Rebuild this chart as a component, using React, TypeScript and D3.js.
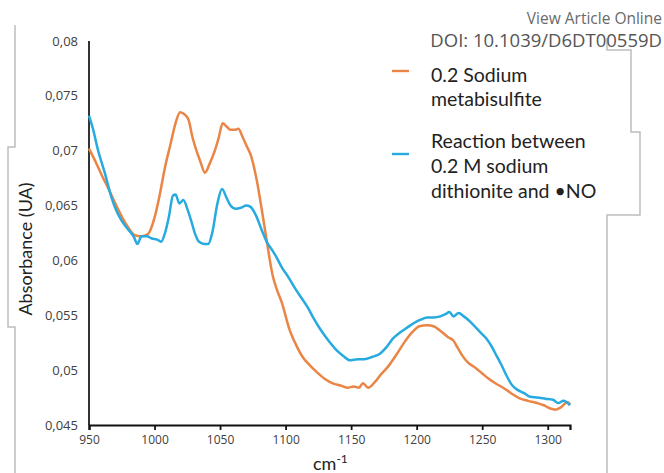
import React, { useEffect, useRef } from 'react';
import * as d3 from 'd3';

// 0.2 sodium metabisulfite
const metaWn = [950, 955, 960, 965, 970, 975, 980, 985, 990, 995, 1000, 1004, 1008, 1012, 1016, 1019.5, 1023, 1026, 1029, 1032, 1035, 1038.5, 1042, 1046, 1049, 1052, 1055, 1058, 1061, 1064, 1067, 1070, 1074, 1078, 1082, 1086, 1090, 1093.5, 1097, 1103, 1108, 1113, 1118, 1124, 1130, 1136, 1142, 1147, 1152, 1156, 1159, 1163, 1168, 1172, 1178, 1185, 1191, 1197, 1202, 1208, 1213, 1218, 1224, 1228, 1231, 1235, 1239, 1245, 1250, 1254, 1260, 1266, 1272, 1279, 1285, 1292, 1297, 1302, 1306, 1310, 1315, 1317];
const metaAbs = [0.0702, 0.0690, 0.0677, 0.0665, 0.0652, 0.0640, 0.0630, 0.0623, 0.0622, 0.0624, 0.0639, 0.0660, 0.0685, 0.0705, 0.0725, 0.0735, 0.0733, 0.0728, 0.0712, 0.0700, 0.0690, 0.0680, 0.0688, 0.0700, 0.0712, 0.0725, 0.0722, 0.0719, 0.0719, 0.0720, 0.0713, 0.0705, 0.0694, 0.0673, 0.0645, 0.0615, 0.0587, 0.0573, 0.0562, 0.0537, 0.0523, 0.0512, 0.0505, 0.0498, 0.0492, 0.0488, 0.0486, 0.0484, 0.0485, 0.0484, 0.0488, 0.0484, 0.0489, 0.0495, 0.0503, 0.0515, 0.0526, 0.0535, 0.0540, 0.0541, 0.0540, 0.0536, 0.0530, 0.0527, 0.0521, 0.0513, 0.0507, 0.0502, 0.0497, 0.0493, 0.0488, 0.0484, 0.0479, 0.0474, 0.0472, 0.0470, 0.0468, 0.0465, 0.0464, 0.0466, 0.0471, 0.0469];

// dithionite + NO
const dithWn = [950, 953, 957, 962, 967, 971, 975, 980, 984, 987, 990, 994, 998, 1002, 1005, 1008, 1011, 1014, 1016, 1019, 1022, 1025, 1028, 1031, 1034, 1038, 1041, 1044, 1048, 1051.5, 1055, 1058, 1062, 1066, 1070, 1073, 1077, 1082, 1086, 1090, 1093, 1097, 1102, 1107, 1112, 1117, 1121, 1125, 1129, 1134, 1139, 1144, 1149, 1155, 1160, 1166, 1172, 1177, 1182, 1187, 1193, 1198, 1203, 1208, 1213, 1218, 1222, 1225, 1228, 1232, 1236, 1241, 1245, 1249, 1253, 1257, 1261, 1265, 1269, 1273, 1277, 1282, 1286, 1292, 1298, 1304, 1308, 1312, 1317];
const dithAbs = [0.0732, 0.0720, 0.0700, 0.0680, 0.0658, 0.0645, 0.0636, 0.0628, 0.0622, 0.0615, 0.0622, 0.0622, 0.0620, 0.0619, 0.0617, 0.0625, 0.0640, 0.0659, 0.0660, 0.0652, 0.0655, 0.0647, 0.0636, 0.0624, 0.0617, 0.0615, 0.0615, 0.0625, 0.0652, 0.0665, 0.0657, 0.0650, 0.0647, 0.0648, 0.0650, 0.0649, 0.0642, 0.0627, 0.0616, 0.0609, 0.0603, 0.0594, 0.0585, 0.0575, 0.0566, 0.0557, 0.0548, 0.0540, 0.0533, 0.0525, 0.0518, 0.0513, 0.0509, 0.0510, 0.0510, 0.0512, 0.0515, 0.0521, 0.0529, 0.0534, 0.0539, 0.0543, 0.0546, 0.0548, 0.0548, 0.0549, 0.0551, 0.0553, 0.0549, 0.0552, 0.0549, 0.0544, 0.0539, 0.0534, 0.0529, 0.0522, 0.0513, 0.0504, 0.0494, 0.0486, 0.0482, 0.0479, 0.0476, 0.0475, 0.0474, 0.0473, 0.0470, 0.0472, 0.0468];

const xTicks = [950, 1000, 1050, 1100, 1150, 1200, 1250, 1300];
const yTicks = [0.045, 0.05, 0.055, 0.06, 0.065, 0.07, 0.075, 0.08];
const legendMeta = ['0.2 Sodium', 'metabisulfite'];
const legendDith = ['Reaction between', '0.2 M sodium', 'dithionite and •NO'];

const ORANGE = '#EA8546';
const BLUE = '#26AADF';

export default function App() {
  const ref = useRef<SVGSVGElement>(null);

  useEffect(() => {
    const svg = d3.select(ref.current);
    svg.selectAll('*').remove();

    const left = 89, right = 570, top = 41, bottom = 425;
    const x = d3.scaleLinear().domain([950, 1317]).range([left, right]);
    const y = d3.scaleLinear().domain([0.045, 0.08]).range([bottom, top]);

    // gray page frame lines behind the figure
    const frame = d3.line();
    svg.append('path')
      .attr('d', frame([[15, 25], [15, 147], [8, 147], [8, 327], [15, 327], [15, 473]]))
      .attr('fill', 'none').attr('stroke', '#bdbdbd').attr('stroke-width', 1.5);
    svg.append('path')
      .attr('d', frame([[607, 38], [607, 50], [631, 50], [631, 132], [640, 132], [640, 215], [607, 215], [607, 473]]))
      .attr('fill', 'none').attr('stroke', '#bdbdbd').attr('stroke-width', 1.5);

    svg.append('text').attr('x', 662).attr('y', 24).attr('text-anchor', 'end')
      .attr('font-family', 'Open Sans').attr('font-size', 15.5).attr('fill', '#6a6a6a')
      .text('View Article Online');
    svg.append('text').attr('x', 662).attr('y', 47).attr('text-anchor', 'end')
      .attr('font-family', 'Open Sans').attr('font-size', 18.5).attr('fill', '#555')
      .text('DOI: 10.1039/D6DT00559D');

    // y axis
    svg.append('line').attr('x1', left).attr('x2', left).attr('y1', top).attr('y2', bottom)
      .attr('stroke', '#333').attr('stroke-width', 2);
    svg.append('g').selectAll('text').data(yTicks).enter().append('text')
      .attr('x', 78).attr('y', (d) => y(d)).attr('dy', '0.35em').attr('text-anchor', 'end')
      .attr('font-family', 'Open Sans').attr('font-size', 13).attr('fill', '#404040')
      .text((d) => String(+d.toFixed(3)).replace('.', ','));

    // x axis
    const xAxis = svg.append('g')
      .attr('transform', `translate(0, ${bottom})`)
      .call(d3.axisBottom(x).tickValues(xTicks).tickSize(5).tickPadding(5).tickFormat(d3.format('d')));
    xAxis.select('.domain').attr('stroke', '#111').attr('stroke-width', 2.2);
    xAxis.selectAll('.tick line').attr('stroke', '#111').attr('stroke-width', 1.8);
    xAxis.selectAll('.tick text').attr('font-family', 'Open Sans').attr('font-size', 12).attr('fill', '#404040');

    // curves
    const line = d3.line<[number, number]>().x((d) => x(d[0])).y((d) => y(d[1])).curve(d3.curveMonotoneX);
    svg.append('path').datum(metaWn.map((w, i) => [w, metaAbs[i]] as [number, number]))
      .attr('d', line).attr('fill', 'none').attr('stroke', ORANGE).attr('stroke-width', 2.5);
    svg.append('path').datum(dithWn.map((w, i) => [w, dithAbs[i]] as [number, number]))
      .attr('d', line).attr('fill', 'none').attr('stroke', BLUE).attr('stroke-width', 2.5);

    // axis titles
    const xt = svg.append('text').attr('x', 313).attr('y', 470)
      .attr('font-family', 'Lato').attr('font-size', 18).attr('fill', '#222');
    xt.append('tspan').text('cm');
    xt.append('tspan').attr('dy', -7).attr('font-size', 12).text('-1');
    svg.append('text').attr('transform', 'translate(32, 249) rotate(-90)').attr('text-anchor', 'middle')
      .attr('font-family', 'Lato').attr('font-size', 18).attr('fill', '#222')
      .text('Absorbance (UA)');

    // legend
    const legend = svg.append('g').attr('font-family', 'Lato').attr('font-size', 19.5).attr('fill', '#222');
    legend.append('line').attr('x1', 392).attr('x2', 409).attr('y1', 71).attr('y2', 71)
      .attr('stroke', ORANGE).attr('stroke-width', 2.4);
    legend.selectAll('text.m').data(legendMeta).enter().append('text').attr('class', 'm')
      .attr('x', 431).attr('y', (d, i) => 82 + i * 24).text((d) => d);
    legend.append('line').attr('x1', 392).attr('x2', 409).attr('y1', 154).attr('y2', 154)
      .attr('stroke', BLUE).attr('stroke-width', 2.4);
    legend.selectAll('text.d').data(legendDith).enter().append('text').attr('class', 'd')
      .attr('x', 431).attr('y', (d, i) => 148 + i * 25).text((d) => d);
  }, []);

  return (
    <svg ref={ref} width={664} height={473}
      style={{ position: 'absolute', left: 0, top: 0, background: '#fff' }} />
  );
}
